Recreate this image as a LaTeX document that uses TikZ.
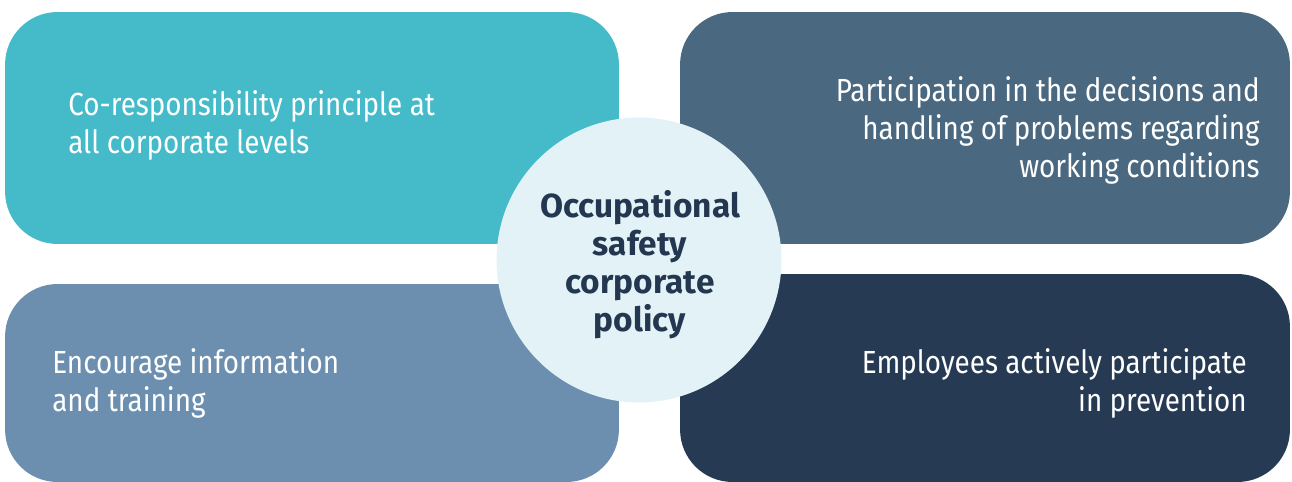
\documentclass[tikz,border=0pt]{standalone}
\usepackage{fontspec}
\setmainfont{Fira Sans}
\newfontfamily\condfont[FakeStretch=0.87]{Fira Sans}
\usetikzlibrary{positioning}
\definecolor{tealtile}{HTML}{45BBCA}
\definecolor{slatetile}{HTML}{4A6880}
\definecolor{steeltile}{HTML}{6C8FB0}
\definecolor{navytile}{HTML}{273A54}
\definecolor{hubfill}{HTML}{E2F2F6}
\definecolor{hubtext}{HTML}{233750}
\tikzset{tile/.style={rounded corners=1.05cm, draw=none, inner sep=0pt}}
\tikzset{tiletext/.style={text=white, inner sep=0pt, font=\condfont\fontsize{18.2}{21.6}\selectfont}}

\begin{document}
\begin{tikzpicture}[
  x=0.02cm,y=-0.02cm,
  hub/.style={circle, fill=hubfill, draw=none, minimum size=5.7cm, inner sep=0pt},
  hubtext/.style={text=hubtext, align=center, inner sep=0pt,
                  font=\bfseries\fontsize{19}{21.6}\selectfont}
]
  \useasboundingbox (0,0) rectangle (1292,481);

  % four tiles
  \node[tile, fill=tealtile, minimum width=12.28cm, minimum height=4.64cm] (tl) at (312,128) {};
  \node[tile, fill=slatetile, minimum width=12.2cm, minimum height=4.64cm] (tr) at (985,128) {};
  \node[tile, fill=steeltile, minimum width=12.28cm, minimum height=3.96cm] (bl) at (312,383) {};
  \node[tile, fill=navytile, minimum width=12.2cm, minimum height=4.16cm] (br) at (985,378) {};

  % centre circle
  \node[hub] (policy) at (639,260) {};
  \node[hubtext] (policytext) at (640,265) {Occupational\\safety\\corporate\\policy};

  % tile labels
  \node[tiletext, anchor=west, align=left] (tltext) at (68,125)
    {Co-responsibility principle at\\all corporate levels};
  \node[tiletext, anchor=east, align=right] (trtext) at (1260,130)
    {Participation in the decisions and\\handling of problems regarding\\working conditions};
  \node[tiletext, anchor=west, align=left] (bltext) at (52,383)
    {Encourage information\\and training};
  \node[tiletext, anchor=east, align=right] (brtext) at (1247,383)
    {Employees actively participate\\in prevention};
\end{tikzpicture}
\end{document}
